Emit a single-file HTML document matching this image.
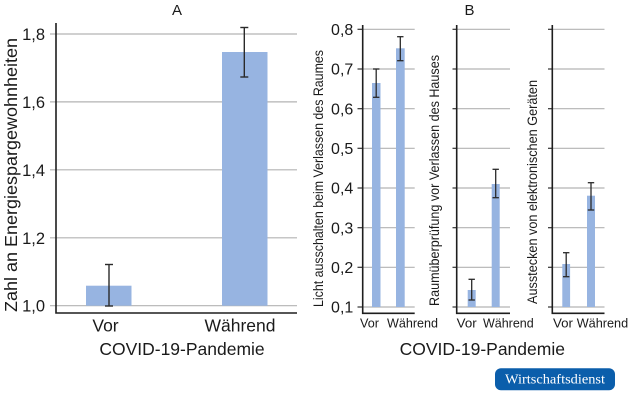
<!DOCTYPE html>
<html><head><meta charset="utf-8"><style>
html,body{margin:0;padding:0;background:#fff;}
svg{display:block;}
text{font-family:"Liberation Sans",sans-serif;fill:#1a1a1a;}
</style></head><body>
<svg width="629" height="401" viewBox="0 0 629 401" xmlns="http://www.w3.org/2000/svg">
<!-- Panel A -->
<text x="177" y="15" font-size="15" text-anchor="middle">A</text>
<g stroke="#b3b3b3" stroke-width="1.2">
<line x1="50" y1="34" x2="297" y2="34"/>
<line x1="50" y1="101.9" x2="297" y2="101.9"/>
<line x1="50" y1="169.8" x2="297" y2="169.8"/>
<line x1="50" y1="237.8" x2="297" y2="237.8"/>
<line x1="50" y1="305.7" x2="297" y2="305.7"/>
</g>
<g font-size="16.5" text-anchor="end">
<text x="45" y="40">1,8</text>
<text x="45" y="107.9">1,6</text>
<text x="45" y="175.8">1,4</text>
<text x="45" y="243.8">1,2</text>
<text x="45" y="311.7">1,0</text>
</g>
<rect x="86" y="285.7" width="45.5" height="20" fill="#97b4e1"/>
<rect x="222" y="52" width="45.5" height="253.7" fill="#97b4e1"/>
<g stroke="#2a2a2a" stroke-width="1.4">
<line x1="109" y1="264.5" x2="109" y2="306"/>
<line x1="105" y1="264.5" x2="113" y2="264.5"/>
<line x1="105" y1="306" x2="113" y2="306"/>
<line x1="244.3" y1="27.5" x2="244.3" y2="77"/>
<line x1="240.3" y1="27.5" x2="248.3" y2="27.5"/>
<line x1="240.3" y1="77" x2="248.3" y2="77"/>
</g>
<g stroke="#1e1e1e" stroke-width="1.6" fill="none">
<polyline points="56,23 56,313 297,313"/>
</g>
<text transform="translate(17,312) rotate(-90)" font-size="17.5" textLength="274" lengthAdjust="spacingAndGlyphs">Zahl an Energiespargewohnheiten</text>
<text x="105.5" y="331.7" font-size="17.5" text-anchor="middle">Vor</text>
<text x="240" y="331.7" font-size="17.5" text-anchor="middle">Während</text>
<text x="182" y="355" font-size="17.5" text-anchor="middle">COVID-19-Pandemie</text>

<!-- Panel B -->
<text x="469.5" y="15" font-size="15" text-anchor="middle">B</text>
<g stroke="#b3b3b3" stroke-width="1.2">
<!-- B1 grid -->
<line x1="362.7" y1="29.3" x2="414.7" y2="29.3"/>
<line x1="362.7" y1="69" x2="414.7" y2="69"/>
<line x1="362.7" y1="108.7" x2="414.7" y2="108.7"/>
<line x1="362.7" y1="148.3" x2="414.7" y2="148.3"/>
<line x1="362.7" y1="188" x2="414.7" y2="188"/>
<line x1="362.7" y1="227.7" x2="414.7" y2="227.7"/>
<line x1="362.7" y1="267.3" x2="414.7" y2="267.3"/>
<line x1="362.7" y1="307" x2="414.7" y2="307"/>
<!-- B2 grid -->
<line x1="456.7" y1="29.3" x2="510" y2="29.3"/>
<line x1="456.7" y1="69" x2="510" y2="69"/>
<line x1="456.7" y1="108.7" x2="510" y2="108.7"/>
<line x1="456.7" y1="148.3" x2="510" y2="148.3"/>
<line x1="456.7" y1="188" x2="510" y2="188"/>
<line x1="456.7" y1="227.7" x2="510" y2="227.7"/>
<line x1="456.7" y1="267.3" x2="510" y2="267.3"/>
<line x1="456.7" y1="307" x2="510" y2="307"/>
<!-- B3 grid -->
<line x1="552.3" y1="29.3" x2="604.5" y2="29.3"/>
<line x1="552.3" y1="69" x2="604.5" y2="69"/>
<line x1="552.3" y1="108.7" x2="604.5" y2="108.7"/>
<line x1="552.3" y1="148.3" x2="604.5" y2="148.3"/>
<line x1="552.3" y1="188" x2="604.5" y2="188"/>
<line x1="552.3" y1="227.7" x2="604.5" y2="227.7"/>
<line x1="552.3" y1="267.3" x2="604.5" y2="267.3"/>
<line x1="552.3" y1="307" x2="604.5" y2="307"/>
</g>
<g stroke="#333" stroke-width="1.2">
<line x1="357.5" y1="29.3" x2="362.7" y2="29.3"/><line x1="357.5" y1="69" x2="362.7" y2="69"/><line x1="357.5" y1="108.7" x2="362.7" y2="108.7"/><line x1="357.5" y1="148.3" x2="362.7" y2="148.3"/><line x1="357.5" y1="188" x2="362.7" y2="188"/><line x1="357.5" y1="227.7" x2="362.7" y2="227.7"/><line x1="357.5" y1="267.3" x2="362.7" y2="267.3"/><line x1="357.5" y1="307" x2="362.7" y2="307"/>
<line x1="452.5" y1="29.3" x2="456.7" y2="29.3"/><line x1="452.5" y1="69" x2="456.7" y2="69"/><line x1="452.5" y1="108.7" x2="456.7" y2="108.7"/><line x1="452.5" y1="148.3" x2="456.7" y2="148.3"/><line x1="452.5" y1="188" x2="456.7" y2="188"/><line x1="452.5" y1="227.7" x2="456.7" y2="227.7"/><line x1="452.5" y1="267.3" x2="456.7" y2="267.3"/><line x1="452.5" y1="307" x2="456.7" y2="307"/>
<line x1="548" y1="29.3" x2="552.3" y2="29.3"/><line x1="548" y1="69" x2="552.3" y2="69"/><line x1="548" y1="108.7" x2="552.3" y2="108.7"/><line x1="548" y1="148.3" x2="552.3" y2="148.3"/><line x1="548" y1="188" x2="552.3" y2="188"/><line x1="548" y1="227.7" x2="552.3" y2="227.7"/><line x1="548" y1="267.3" x2="552.3" y2="267.3"/><line x1="548" y1="307" x2="552.3" y2="307"/>
</g>
<g font-size="16" text-anchor="end">
<text x="353.3" y="35">0,8</text>
<text x="353.3" y="74.7">0,7</text>
<text x="353.3" y="114.4">0,6</text>
<text x="353.3" y="154">0,5</text>
<text x="353.3" y="193.7">0,4</text>
<text x="353.3" y="233.4">0,3</text>
<text x="353.3" y="273">0,2</text>
<text x="353.3" y="312.7">0,1</text>
</g>
<g fill="#97b4e1">
<rect x="372" y="83" width="8.5" height="224"/>
<rect x="396" y="48.3" width="8.7" height="258.7"/>
<rect x="467.7" y="290" width="8" height="17"/>
<rect x="491.7" y="184" width="8" height="123"/>
<rect x="562.3" y="264" width="7.8" height="43"/>
<rect x="587" y="195.7" width="8" height="111.3"/>
</g>
<g stroke="#2a2a2a" stroke-width="1.3">
<line x1="376.2" y1="69" x2="376.2" y2="97.3"/><line x1="373" y1="69" x2="379.4" y2="69"/><line x1="373" y1="97.3" x2="379.4" y2="97.3"/>
<line x1="400.3" y1="36.7" x2="400.3" y2="60.7"/><line x1="397.1" y1="36.7" x2="403.5" y2="36.7"/><line x1="397.1" y1="60.7" x2="403.5" y2="60.7"/>
<line x1="471.7" y1="279.3" x2="471.7" y2="300"/><line x1="468.5" y1="279.3" x2="474.9" y2="279.3"/><line x1="468.5" y1="300" x2="474.9" y2="300"/>
<line x1="495.7" y1="169.3" x2="495.7" y2="197.7"/><line x1="492.5" y1="169.3" x2="498.9" y2="169.3"/><line x1="492.5" y1="197.7" x2="498.9" y2="197.7"/>
<line x1="566.2" y1="252.7" x2="566.2" y2="276.7"/><line x1="563" y1="252.7" x2="569.4" y2="252.7"/><line x1="563" y1="276.7" x2="569.4" y2="276.7"/>
<line x1="591" y1="182.7" x2="591" y2="210"/><line x1="587.8" y1="182.7" x2="594.2" y2="182.7"/><line x1="587.8" y1="210" x2="594.2" y2="210"/>
</g>
<g stroke="#1e1e1e" stroke-width="1.6" fill="none">
<polyline points="362.7,25 362.7,313.3 414.7,313.3"/>
<polyline points="456.7,25 456.7,313.3 510,313.3"/>
<polyline points="552.3,25 552.3,313.3 604.5,313.3"/>
</g>
<g font-size="13.5">
<text transform="translate(323,307) rotate(-90)" textLength="257" lengthAdjust="spacingAndGlyphs">Licht ausschalten beim Verlassen des Raumes</text>
<text transform="translate(439,306) rotate(-90)" textLength="251" lengthAdjust="spacingAndGlyphs">Raumüberprüfung vor Verlassen des Hauses</text>
<text transform="translate(537,304) rotate(-90)" textLength="224" lengthAdjust="spacingAndGlyphs">Ausstecken von elektronischen Geräten</text>
</g>
<g font-size="12.8">
<text x="360" y="327.7" textLength="19" lengthAdjust="spacingAndGlyphs">Vor</text>
<text x="387" y="327.7" textLength="51" lengthAdjust="spacingAndGlyphs">Während</text>
<text x="456.7" y="327.7" textLength="20" lengthAdjust="spacingAndGlyphs">Vor</text>
<text x="483" y="327.7" textLength="50.7" lengthAdjust="spacingAndGlyphs">Während</text>
<text x="553" y="327.7" textLength="20" lengthAdjust="spacingAndGlyphs">Vor</text>
<text x="576.7" y="327.7" textLength="51.5" lengthAdjust="spacingAndGlyphs">Während</text>
</g>
<text x="482.3" y="355" font-size="17.5" text-anchor="middle">COVID-19-Pandemie</text>

<!-- Badge -->
<rect x="495" y="368.3" width="120" height="22" rx="6" ry="6" fill="#0b5eab"/>
<text x="505" y="383.5" font-size="14" textLength="100" lengthAdjust="spacingAndGlyphs" style="font-family:'Liberation Serif',serif;fill:#fff;">Wirtschaftsdienst</text>
</svg>
</body></html>
